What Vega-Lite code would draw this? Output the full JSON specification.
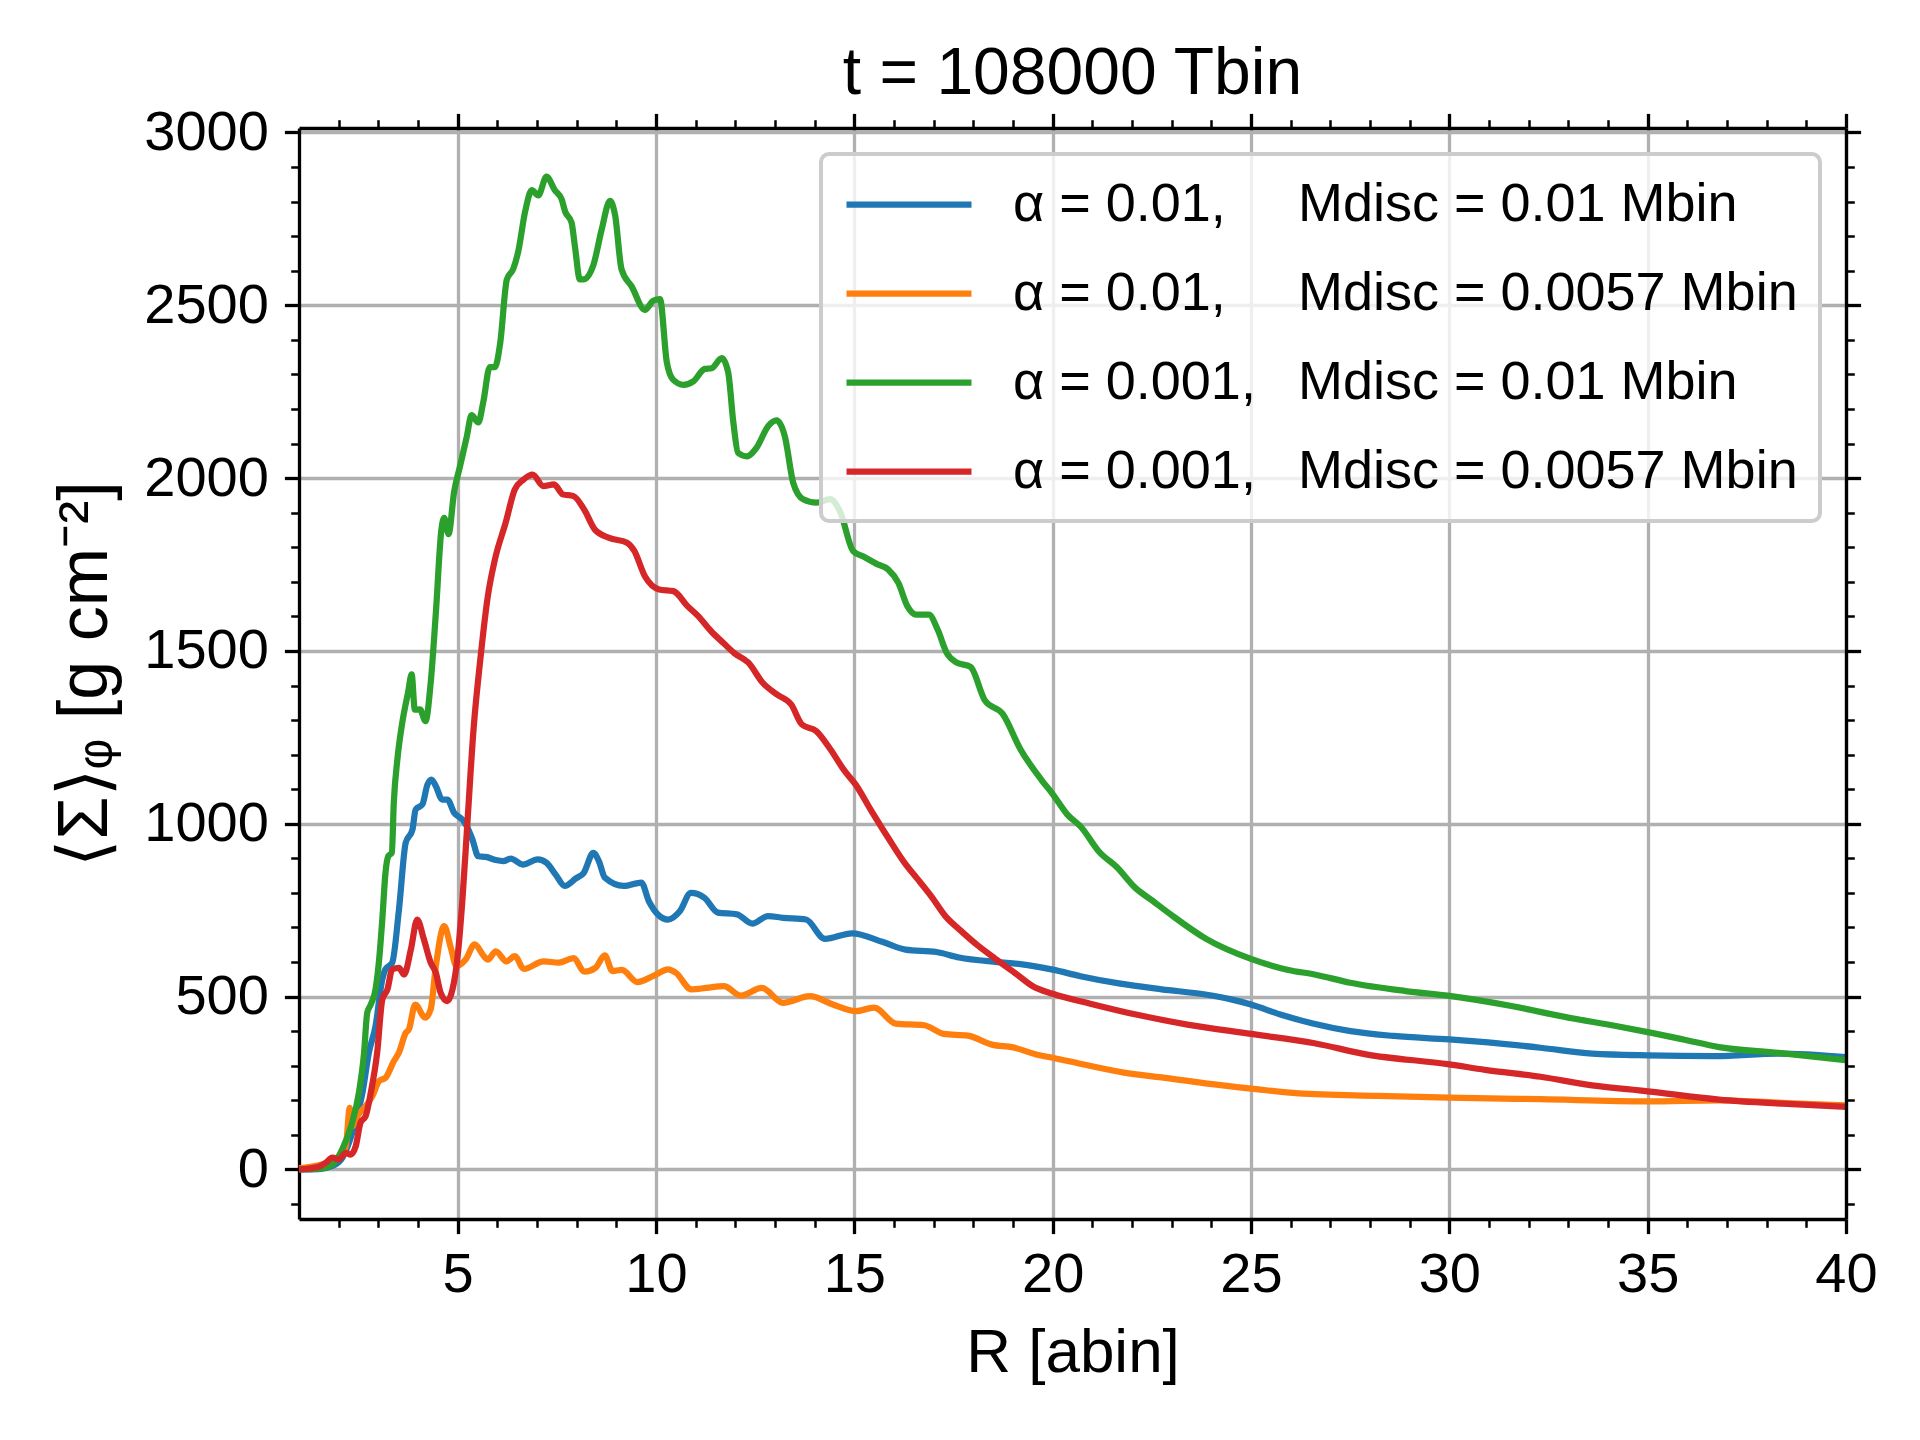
{
  "$schema": "https://vega.github.io/schema/vega-lite/v6.json",
  "autosize": {"type": "none"},
  "padding": {"left": 299, "top": 128, "right": 74, "bottom": 221},
  "width": 1547,
  "height": 1091,
  "background": "white",
  "config": {
    "font": "Liberation Sans",
    "view": {"stroke": null},
    "legend": {"strokeWidth": 4},
    "axis": {"domainColor": "black", "domainWidth": 3.3, "tickColor": "black", "labelColor": "black", "titleColor": "black", "labelFont": "Liberation Sans", "titleFont": "Liberation Sans", "titleFontWeight": "normal"}
  },
  "title": {"text": "t = 108000 Tbin", "fontSize": 66, "fontWeight": "normal", "font": "Liberation Sans", "color": "black", "anchor": "middle", "frame": "group", "baseline": "bottom", "offset": 10, "dy": 80},
  "data": {"values": [
    {"R":1.0,"S":0,"s":"b"},{"R":1.5,"S":1,"s":"b"},{"R":1.84,"S":10,"s":"b"},{"R":2.1,"S":35,"s":"b"},{"R":2.26,"S":77,"s":"b"},{"R":2.45,"S":150,"s":"b"},{"R":2.6,"S":222,"s":"b"},{"R":2.76,"S":337,"s":"b"},{"R":2.93,"S":415,"s":"b"},{"R":3.1,"S":550,"s":"b"},{"R":3.18,"S":579,"s":"b"},{"R":3.35,"S":598,"s":"b"},{"R":3.52,"S":752,"s":"b"},{"R":3.69,"S":945,"s":"b"},{"R":3.86,"S":983,"s":"b"},{"R":3.94,"S":1041,"s":"b"},{"R":4.11,"S":1056,"s":"b"},{"R":4.24,"S":1114,"s":"b"},{"R":4.34,"S":1128,"s":"b"},{"R":4.45,"S":1109,"s":"b"},{"R":4.61,"S":1070,"s":"b"},{"R":4.74,"S":1070,"s":"b"},{"R":4.91,"S":1032,"s":"b"},{"R":5.12,"S":1012,"s":"b"},{"R":5.23,"S":993,"s":"b"},{"R":5.37,"S":955,"s":"b"},{"R":5.52,"S":906,"s":"b"},{"R":5.71,"S":904,"s":"b"},{"R":5.96,"S":895,"s":"b"},{"R":6.15,"S":892,"s":"b"},{"R":6.34,"S":899,"s":"b"},{"R":6.64,"S":882,"s":"b"},{"R":7.02,"S":897,"s":"b"},{"R":7.24,"S":887,"s":"b"},{"R":7.47,"S":853,"s":"b"},{"R":7.7,"S":820,"s":"b"},{"R":7.98,"S":842,"s":"b"},{"R":8.18,"S":858,"s":"b"},{"R":8.42,"S":916,"s":"b"},{"R":8.56,"S":892,"s":"b"},{"R":8.71,"S":844,"s":"b"},{"R":9.19,"S":820,"s":"b"},{"R":9.63,"S":830,"s":"b"},{"R":9.82,"S":776,"s":"b"},{"R":10.3,"S":723,"s":"b"},{"R":10.6,"S":747,"s":"b"},{"R":10.88,"S":800,"s":"b"},{"R":11.22,"S":786,"s":"b"},{"R":11.56,"S":743,"s":"b"},{"R":12.04,"S":738,"s":"b"},{"R":12.43,"S":711,"s":"b"},{"R":12.82,"S":733,"s":"b"},{"R":13.2,"S":728,"s":"b"},{"R":13.78,"S":723,"s":"b"},{"R":14.26,"S":667,"s":"b"},{"R":14.94,"S":683,"s":"b"},{"R":15.72,"S":658,"s":"b"},{"R":16.29,"S":636,"s":"b"},{"R":17.07,"S":629,"s":"b"},{"R":17.64,"S":613,"s":"b"},{"R":18.6,"S":600,"s":"b"},{"R":19.19,"S":594,"s":"b"},{"R":20,"S":578,"s":"b"},{"R":20.7,"S":559,"s":"b"},{"R":21.67,"S":538,"s":"b"},{"R":22.75,"S":521,"s":"b"},{"R":23.85,"S":506,"s":"b"},{"R":24.5,"S":492,"s":"b"},{"R":25,"S":477,"s":"b"},{"R":25.74,"S":448,"s":"b"},{"R":26.56,"S":422,"s":"b"},{"R":27.51,"S":400,"s":"b"},{"R":28.6,"S":386,"s":"b"},{"R":30,"S":376,"s":"b"},{"R":30.9,"S":368,"s":"b"},{"R":32.3,"S":352,"s":"b"},{"R":33.6,"S":335,"s":"b"},{"R":35,"S":330,"s":"b"},{"R":36.7,"S":328,"s":"b"},{"R":38.3,"S":335,"s":"b"},{"R":40,"S":325,"s":"b"},
    {"R":1.0,"S":3,"s":"o"},{"R":1.5,"S":12,"s":"o"},{"R":2.0,"S":34,"s":"o"},{"R":2.18,"S":67,"s":"o"},{"R":2.28,"S":178,"s":"o"},{"R":2.34,"S":125,"s":"o"},{"R":2.47,"S":154,"s":"o"},{"R":2.68,"S":183,"s":"o"},{"R":2.85,"S":212,"s":"o"},{"R":3.02,"S":256,"s":"o"},{"R":3.18,"S":265,"s":"o"},{"R":3.39,"S":313,"s":"o"},{"R":3.52,"S":338,"s":"o"},{"R":3.69,"S":395,"s":"o"},{"R":3.77,"S":405,"s":"o"},{"R":3.93,"S":477,"s":"o"},{"R":4.18,"S":439,"s":"o"},{"R":4.32,"S":463,"s":"o"},{"R":4.45,"S":588,"s":"o"},{"R":4.66,"S":704,"s":"o"},{"R":4.83,"S":640,"s":"o"},{"R":4.97,"S":588,"s":"o"},{"R":5.2,"S":607,"s":"o"},{"R":5.43,"S":651,"s":"o"},{"R":5.66,"S":617,"s":"o"},{"R":5.76,"S":607,"s":"o"},{"R":5.96,"S":631,"s":"o"},{"R":6.23,"S":602,"s":"o"},{"R":6.44,"S":617,"s":"o"},{"R":6.67,"S":580,"s":"o"},{"R":7.17,"S":602,"s":"o"},{"R":7.55,"S":598,"s":"o"},{"R":7.92,"S":611,"s":"o"},{"R":8.2,"S":572,"s":"o"},{"R":8.47,"S":583,"s":"o"},{"R":8.71,"S":619,"s":"o"},{"R":8.9,"S":574,"s":"o"},{"R":9.14,"S":577,"s":"o"},{"R":9.53,"S":542,"s":"o"},{"R":9.92,"S":559,"s":"o"},{"R":10.31,"S":579,"s":"o"},{"R":10.5,"S":569,"s":"o"},{"R":10.89,"S":521,"s":"o"},{"R":11.27,"S":525,"s":"o"},{"R":11.71,"S":530,"s":"o"},{"R":12.14,"S":503,"s":"o"},{"R":12.67,"S":525,"s":"o"},{"R":13.2,"S":482,"s":"o"},{"R":13.88,"S":501,"s":"o"},{"R":14.46,"S":477,"s":"o"},{"R":15.04,"S":458,"s":"o"},{"R":15.5,"S":468,"s":"o"},{"R":16.04,"S":422,"s":"o"},{"R":16.76,"S":417,"s":"o"},{"R":17.26,"S":392,"s":"o"},{"R":17.86,"S":387,"s":"o"},{"R":18.47,"S":361,"s":"o"},{"R":19.0,"S":353,"s":"o"},{"R":19.64,"S":331,"s":"o"},{"R":20,"S":323,"s":"o"},{"R":20.72,"S":305,"s":"o"},{"R":21.8,"S":280,"s":"o"},{"R":22.75,"S":266,"s":"o"},{"R":23.85,"S":249,"s":"o"},{"R":25,"S":234,"s":"o"},{"R":26.2,"S":220,"s":"o"},{"R":28.2,"S":213,"s":"o"},{"R":30,"S":208,"s":"o"},{"R":32.3,"S":203,"s":"o"},{"R":35,"S":197,"s":"o"},{"R":36.8,"S":200,"s":"o"},{"R":38.5,"S":192,"s":"o"},{"R":40,"S":185,"s":"o"},
    {"R":1.0,"S":0,"s":"g"},{"R":1.5,"S":2,"s":"g"},{"R":1.84,"S":14,"s":"g"},{"R":2.09,"S":58,"s":"g"},{"R":2.34,"S":135,"s":"g"},{"R":2.51,"S":222,"s":"g"},{"R":2.64,"S":337,"s":"g"},{"R":2.72,"S":453,"s":"g"},{"R":2.81,"S":477,"s":"g"},{"R":2.93,"S":521,"s":"g"},{"R":3.02,"S":607,"s":"g"},{"R":3.1,"S":723,"s":"g"},{"R":3.18,"S":858,"s":"g"},{"R":3.25,"S":906,"s":"g"},{"R":3.34,"S":916,"s":"g"},{"R":3.39,"S":1061,"s":"g"},{"R":3.48,"S":1186,"s":"g"},{"R":3.6,"S":1290,"s":"g"},{"R":3.75,"S":1380,"s":"g"},{"R":3.84,"S":1432,"s":"g"},{"R":3.92,"S":1330,"s":"g"},{"R":4.05,"S":1331,"s":"g"},{"R":4.19,"S":1297,"s":"g"},{"R":4.32,"S":1408,"s":"g"},{"R":4.45,"S":1610,"s":"g"},{"R":4.59,"S":1851,"s":"g"},{"R":4.66,"S":1885,"s":"g"},{"R":4.77,"S":1838,"s":"g"},{"R":4.91,"S":1960,"s":"g"},{"R":5.05,"S":2030,"s":"g"},{"R":5.23,"S":2120,"s":"g"},{"R":5.35,"S":2182,"s":"g"},{"R":5.52,"S":2161,"s":"g"},{"R":5.65,"S":2223,"s":"g"},{"R":5.81,"S":2321,"s":"g"},{"R":5.94,"S":2321,"s":"g"},{"R":6.07,"S":2389,"s":"g"},{"R":6.24,"S":2575,"s":"g"},{"R":6.4,"S":2605,"s":"g"},{"R":6.53,"S":2657,"s":"g"},{"R":6.7,"S":2771,"s":"g"},{"R":6.87,"S":2833,"s":"g"},{"R":7.03,"S":2818,"s":"g"},{"R":7.24,"S":2872,"s":"g"},{"R":7.45,"S":2833,"s":"g"},{"R":7.62,"S":2807,"s":"g"},{"R":7.71,"S":2771,"s":"g"},{"R":7.87,"S":2740,"s":"g"},{"R":7.96,"S":2667,"s":"g"},{"R":8.08,"S":2575,"s":"g"},{"R":8.17,"S":2575,"s":"g"},{"R":8.42,"S":2616,"s":"g"},{"R":8.63,"S":2719,"s":"g"},{"R":8.84,"S":2802,"s":"g"},{"R":8.97,"S":2760,"s":"g"},{"R":9.13,"S":2605,"s":"g"},{"R":9.39,"S":2554,"s":"g"},{"R":9.72,"S":2487,"s":"g"},{"R":9.93,"S":2513,"s":"g"},{"R":10.1,"S":2518,"s":"g"},{"R":10.27,"S":2337,"s":"g"},{"R":10.43,"S":2285,"s":"g"},{"R":10.69,"S":2270,"s":"g"},{"R":10.94,"S":2280,"s":"g"},{"R":11.23,"S":2316,"s":"g"},{"R":11.4,"S":2318,"s":"g"},{"R":11.66,"S":2347,"s":"g"},{"R":11.82,"S":2306,"s":"g"},{"R":11.95,"S":2161,"s":"g"},{"R":12.07,"S":2073,"s":"g"},{"R":12.29,"S":2063,"s":"g"},{"R":12.54,"S":2089,"s":"g"},{"R":12.83,"S":2151,"s":"g"},{"R":13.04,"S":2167,"s":"g"},{"R":13.25,"S":2120,"s":"g"},{"R":13.46,"S":1986,"s":"g"},{"R":13.71,"S":1939,"s":"g"},{"R":14.05,"S":1929,"s":"g"},{"R":14.39,"S":1939,"s":"g"},{"R":14.64,"S":1903,"s":"g"},{"R":14.97,"S":1789,"s":"g"},{"R":15.23,"S":1773,"s":"g"},{"R":15.56,"S":1752,"s":"g"},{"R":15.85,"S":1736,"s":"g"},{"R":16.11,"S":1697,"s":"g"},{"R":16.34,"S":1629,"s":"g"},{"R":16.56,"S":1605,"s":"g"},{"R":16.88,"S":1605,"s":"g"},{"R":17.1,"S":1562,"s":"g"},{"R":17.33,"S":1494,"s":"g"},{"R":17.57,"S":1467,"s":"g"},{"R":17.93,"S":1454,"s":"g"},{"R":18.29,"S":1357,"s":"g"},{"R":18.74,"S":1318,"s":"g"},{"R":19.19,"S":1215,"s":"g"},{"R":19.73,"S":1125,"s":"g"},{"R":20,"S":1086,"s":"g"},{"R":20.36,"S":1028,"s":"g"},{"R":20.72,"S":990,"s":"g"},{"R":21.17,"S":919,"s":"g"},{"R":21.62,"S":874,"s":"g"},{"R":22.07,"S":816,"s":"g"},{"R":22.52,"S":777,"s":"g"},{"R":22.97,"S":738,"s":"g"},{"R":23.87,"S":667,"s":"g"},{"R":25,"S":609,"s":"g"},{"R":25.94,"S":577,"s":"g"},{"R":26.6,"S":564,"s":"g"},{"R":27.5,"S":540,"s":"g"},{"R":28.9,"S":516,"s":"g"},{"R":30,"S":502,"s":"g"},{"R":31.6,"S":472,"s":"g"},{"R":33,"S":439,"s":"g"},{"R":34.2,"S":415,"s":"g"},{"R":35.1,"S":395,"s":"g"},{"R":35.9,"S":376,"s":"g"},{"R":36.8,"S":354,"s":"g"},{"R":38.3,"S":337,"s":"g"},{"R":40,"S":316,"s":"g"},
    {"R":1.0,"S":0,"s":"r"},{"R":1.5,"S":8,"s":"r"},{"R":1.67,"S":19,"s":"r"},{"R":1.84,"S":34,"s":"r"},{"R":2.0,"S":29,"s":"r"},{"R":2.18,"S":48,"s":"r"},{"R":2.3,"S":43,"s":"r"},{"R":2.43,"S":67,"s":"r"},{"R":2.55,"S":135,"s":"r"},{"R":2.68,"S":154,"s":"r"},{"R":2.81,"S":222,"s":"r"},{"R":2.97,"S":337,"s":"r"},{"R":3.1,"S":492,"s":"r"},{"R":3.23,"S":521,"s":"r"},{"R":3.35,"S":579,"s":"r"},{"R":3.52,"S":583,"s":"r"},{"R":3.65,"S":564,"s":"r"},{"R":3.82,"S":636,"s":"r"},{"R":3.98,"S":723,"s":"r"},{"R":4.15,"S":665,"s":"r"},{"R":4.32,"S":598,"s":"r"},{"R":4.45,"S":569,"s":"r"},{"R":4.57,"S":511,"s":"r"},{"R":4.74,"S":487,"s":"r"},{"R":4.87,"S":521,"s":"r"},{"R":4.99,"S":607,"s":"r"},{"R":5.12,"S":781,"s":"r"},{"R":5.24,"S":993,"s":"r"},{"R":5.4,"S":1273,"s":"r"},{"R":5.58,"S":1485,"s":"r"},{"R":5.76,"S":1658,"s":"r"},{"R":5.94,"S":1765,"s":"r"},{"R":6.21,"S":1871,"s":"r"},{"R":6.44,"S":1967,"s":"r"},{"R":6.66,"S":1996,"s":"r"},{"R":6.89,"S":2010,"s":"r"},{"R":7.16,"S":1977,"s":"r"},{"R":7.43,"S":1982,"s":"r"},{"R":7.65,"S":1953,"s":"r"},{"R":7.92,"S":1948,"s":"r"},{"R":8.19,"S":1909,"s":"r"},{"R":8.46,"S":1851,"s":"r"},{"R":8.82,"S":1827,"s":"r"},{"R":9.27,"S":1813,"s":"r"},{"R":9.45,"S":1790,"s":"r"},{"R":9.72,"S":1716,"s":"r"},{"R":10.08,"S":1678,"s":"r"},{"R":10.44,"S":1673,"s":"r"},{"R":10.8,"S":1629,"s":"r"},{"R":11.07,"S":1600,"s":"r"},{"R":11.39,"S":1557,"s":"r"},{"R":11.7,"S":1523,"s":"r"},{"R":11.97,"S":1494,"s":"r"},{"R":12.33,"S":1466,"s":"r"},{"R":12.69,"S":1408,"s":"r"},{"R":13.05,"S":1374,"s":"r"},{"R":13.41,"S":1345,"s":"r"},{"R":13.68,"S":1287,"s":"r"},{"R":14.04,"S":1268,"s":"r"},{"R":14.4,"S":1215,"s":"r"},{"R":14.76,"S":1152,"s":"r"},{"R":15.03,"S":1114,"s":"r"},{"R":15.41,"S":1041,"s":"r"},{"R":15.86,"S":958,"s":"r"},{"R":16.31,"S":880,"s":"r"},{"R":16.58,"S":842,"s":"r"},{"R":16.94,"S":790,"s":"r"},{"R":17.3,"S":732,"s":"r"},{"R":17.66,"S":693,"s":"r"},{"R":18.11,"S":648,"s":"r"},{"R":18.56,"S":609,"s":"r"},{"R":19.1,"S":564,"s":"r"},{"R":19.5,"S":530,"s":"r"},{"R":20,"S":508,"s":"r"},{"R":21,"S":478,"s":"r"},{"R":22.1,"S":448,"s":"r"},{"R":23.4,"S":419,"s":"r"},{"R":25,"S":392,"s":"r"},{"R":26.6,"S":365,"s":"r"},{"R":27.9,"S":333,"s":"r"},{"R":30,"S":304,"s":"r"},{"R":30.9,"S":288,"s":"r"},{"R":32.3,"S":268,"s":"r"},{"R":33.6,"S":243,"s":"r"},{"R":35,"S":226,"s":"r"},{"R":36.8,"S":202,"s":"r"},{"R":38.4,"S":190,"s":"r"},{"R":40,"S":181,"s":"r"}
  ]},
  "resolve": {"scale": {"x": "shared", "y": "shared"}, "axis": {"x": "independent", "y": "independent"}},
  "layer": [
    {
      "mark": {"type": "line", "strokeWidth": 6.25, "interpolate": "monotone"},
      "encoding": {
        "x": {"field": "R", "type": "quantitative", "scale": {"domain": [1, 40], "nice": false, "zero": false},
          "axis": {"orient": "bottom", "values": [5,10,15,20,25,30,35,40], "format": "d", "grid": true, "gridColor": "#b0b0b0", "gridWidth": 3.3, "gridOpacity": 1, "tickSize": 14.6, "tickWidth": 3.3, "labelFontSize": 56, "labelPadding": 14, "labelFlush": false, "labelOverlap": false, "title": "R [abin]", "titleFontSize": 62, "titlePadding": 20}},
        "y": {"field": "S", "type": "quantitative", "scale": {"domain": [-143.5, 3013], "nice": false, "zero": false},
          "axis": {"orient": "left", "values": [0,500,1000,1500,2000,2500,3000], "format": "d", "grid": true, "gridColor": "#b0b0b0", "gridWidth": 3.3, "gridOpacity": 1, "tickSize": 14.6, "tickWidth": 3.3, "labelFontSize": 56, "labelPadding": 16, "labelFlush": false, "labelOverlap": false, "title": "⟨Σ⟩ᵩ   [g cm⁻²]", "titleFontSize": 70, "titlePadding": 22}},
        "color": {"field": "s", "type": "nominal",
          "scale": {"domain": ["b","o","g","r"], "range": ["#1f77b4","#ff7f0e","#2ca02c","#d62728"]},
          "legend": {"title": null, "orient": "top-right", "offset": 26, "padding": 22,
            "labelExpr": "{'b':'α = 0.01, \u2007\u2002Mdisc = 0.01 Mbin','o':'α = 0.01, \u2007\u2002Mdisc = 0.0057 Mbin','g':'α = 0.001, \u2002Mdisc = 0.01 Mbin','r':'α = 0.001, \u2002Mdisc = 0.0057 Mbin'}[datum.label]",
            "labelFontSize": 54, "labelColor": "black", "labelFont": "Liberation Sans", "labelLimit": 1200,
            "symbolType": "M-1,0H4", "symbolSize": 2500, "symbolStrokeWidth": 6.25, "labelOffset": 113, "rowPadding": 33,
            "fillColor": "rgba(255,255,255,0.8)", "strokeColor": "#cccccc", "cornerRadius": 8}},
        "order": {"field": "R", "type": "quantitative"}
      }
    },
    {
      "mark": {"type": "line", "strokeOpacity": 0},
      "encoding": {
        "x": {"field": "R", "type": "quantitative", "axis": {"orient": "top", "values": [5,10,15,20,25,30,35,40], "grid": false, "labels": false, "title": null, "tickSize": 14.6, "tickWidth": 3.3, "domain": true, "zindex": 1}},
        "y": {"field": "S", "type": "quantitative", "axis": {"orient": "right", "values": [0,500,1000,1500,2000,2500,3000], "grid": false, "labels": false, "title": null, "tickSize": 14.6, "tickWidth": 3.3, "domain": true, "zindex": 1}},
        "detail": {"field": "s"}
      }
    },
    {
      "mark": {"type": "line", "strokeOpacity": 0},
      "encoding": {
        "x": {"field": "R", "type": "quantitative", "axis": {"orient": "bottom", "values": [2,3,4,6,7,8,9,11,12,13,14,16,17,18,19,21,22,23,24,26,27,28,29,31,32,33,34,36,37,38,39], "grid": false, "labels": false, "title": null, "tickSize": 8.3, "tickWidth": 2.5, "domain": false, "zindex": 1}},
        "y": {"field": "S", "type": "quantitative", "axis": {"orient": "left", "values": [-100,100,200,300,400,600,700,800,900,1100,1200,1300,1400,1600,1700,1800,1900,2100,2200,2300,2400,2600,2700,2800,2900], "grid": false, "labels": false, "title": null, "tickSize": 8.3, "tickWidth": 2.5, "domain": false, "zindex": 1}},
        "detail": {"field": "s"}
      }
    },
    {
      "mark": {"type": "line", "strokeOpacity": 0},
      "encoding": {
        "x": {"field": "R", "type": "quantitative", "axis": {"orient": "top", "values": [2,3,4,6,7,8,9,11,12,13,14,16,17,18,19,21,22,23,24,26,27,28,29,31,32,33,34,36,37,38,39], "grid": false, "labels": false, "title": null, "tickSize": 8.3, "tickWidth": 2.5, "domain": false, "zindex": 1}},
        "y": {"field": "S", "type": "quantitative", "axis": {"orient": "right", "values": [-100,100,200,300,400,600,700,800,900,1100,1200,1300,1400,1600,1700,1800,1900,2100,2200,2300,2400,2600,2700,2800,2900], "grid": false, "labels": false, "title": null, "tickSize": 8.3, "tickWidth": 2.5, "domain": false, "zindex": 1}},
        "detail": {"field": "s"}
      }
    }
  ]
}
